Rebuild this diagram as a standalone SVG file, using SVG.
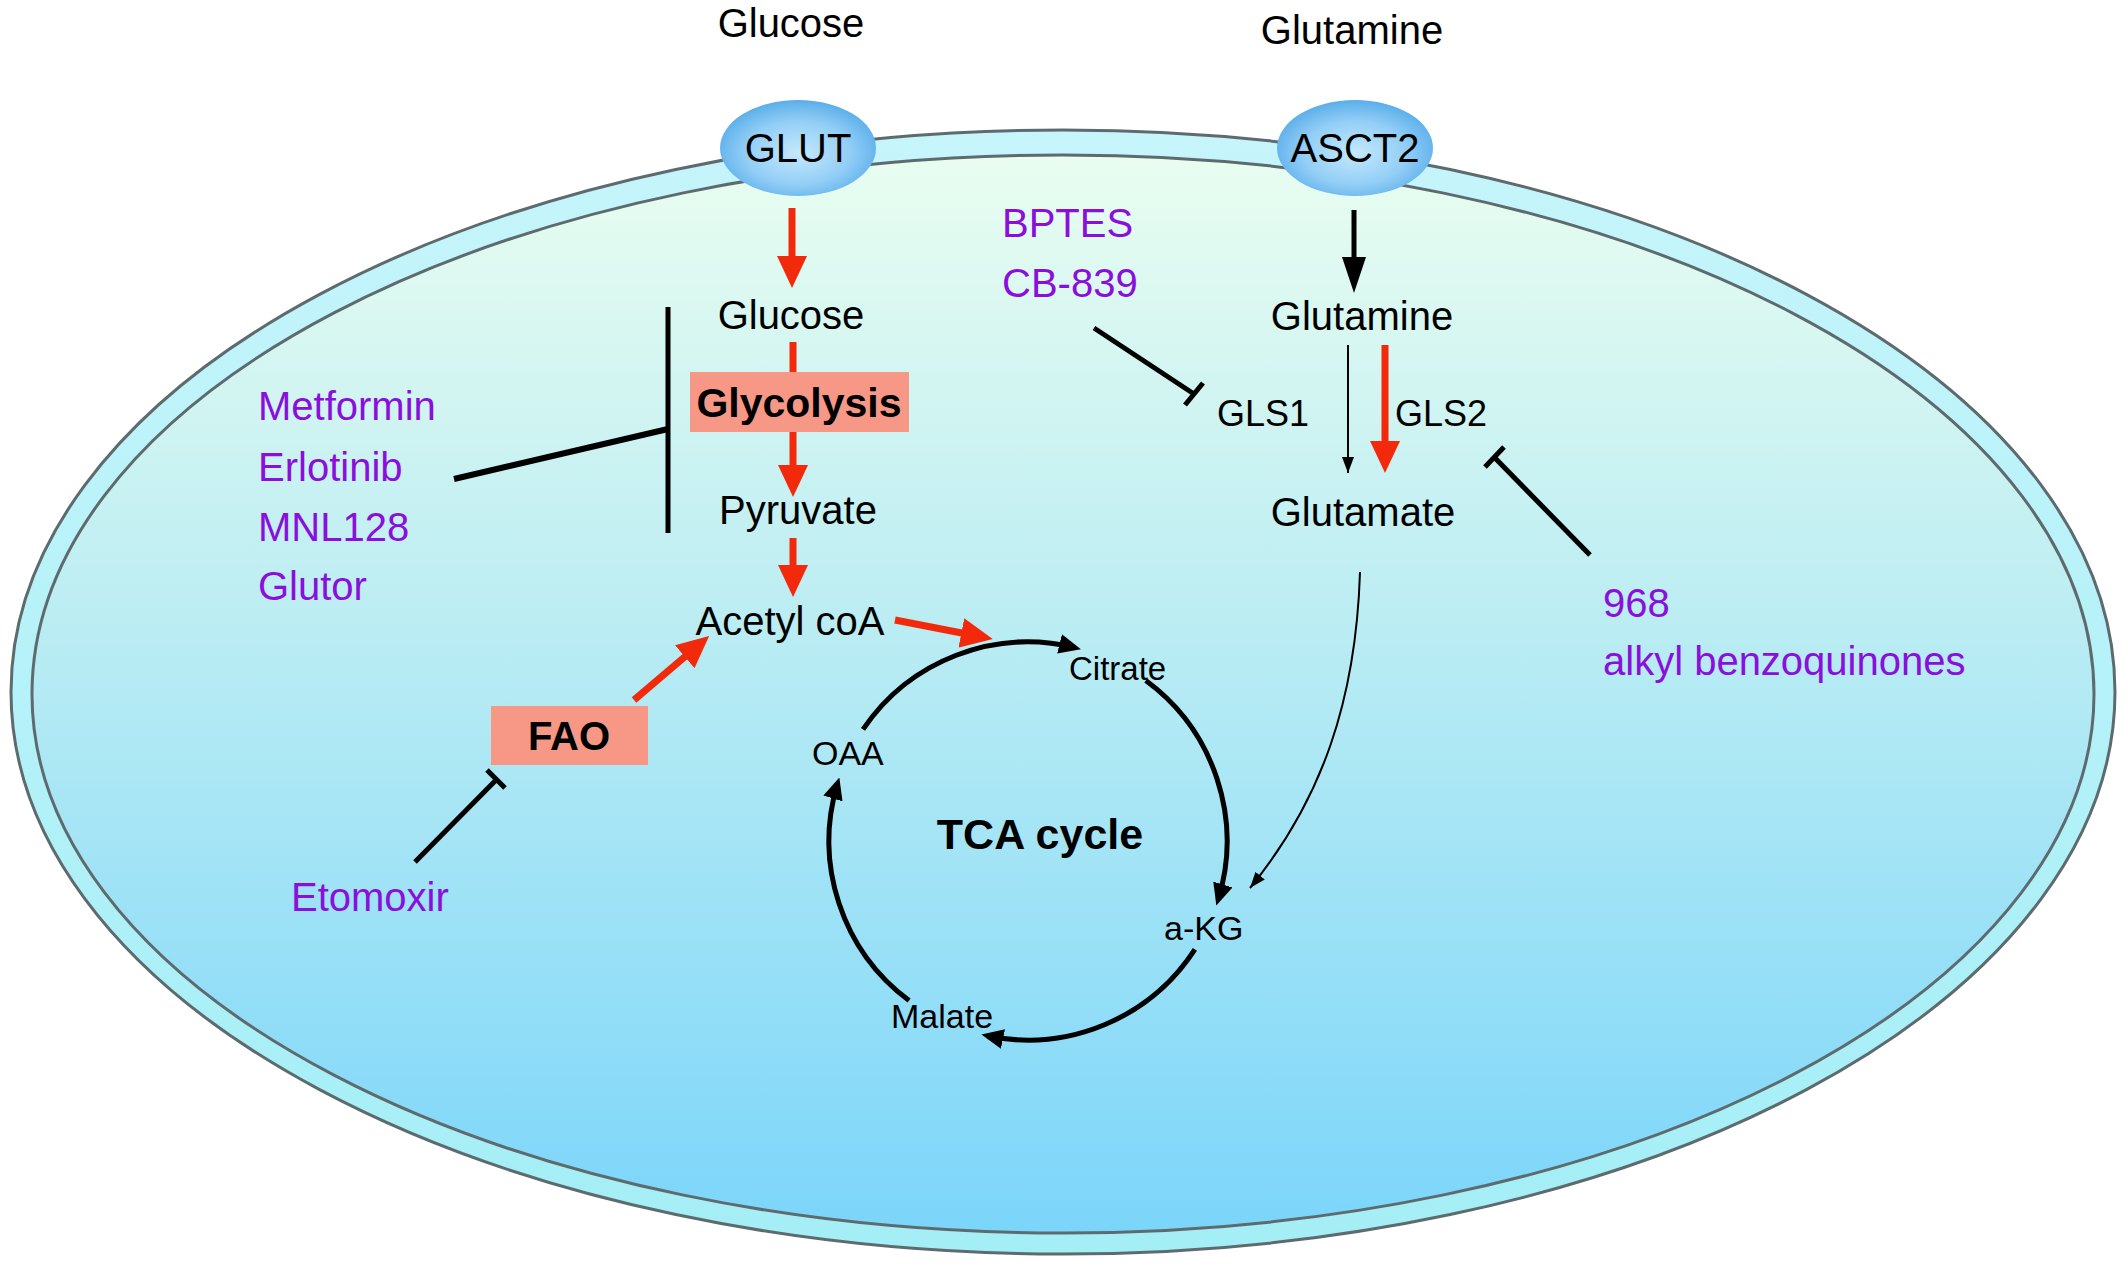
<svg xmlns="http://www.w3.org/2000/svg" width="2126" height="1266" viewBox="0 0 2126 1266">
<defs>
<linearGradient id="memG" x1="0" y1="0" x2="0" y2="1">
<stop offset="0" stop-color="#c6f5fb"/><stop offset="1" stop-color="#a4eef6"/>
</linearGradient>
<linearGradient id="cytG" x1="0" y1="0" x2="0" y2="1">
<stop offset="0" stop-color="#e9fdf0"/><stop offset="0.45" stop-color="#b9ecf3"/><stop offset="1" stop-color="#7bd5fa"/>
</linearGradient>
<radialGradient id="tpG" cx="50%" cy="55%" r="55%">
<stop offset="0" stop-color="#c4e9fc"/><stop offset="0.6" stop-color="#93cef6"/><stop offset="1" stop-color="#5aaeea"/>
</radialGradient>
<marker id="redHead" viewBox="0 0 32 30" refX="20" refY="15" markerWidth="32" markerHeight="30" markerUnits="userSpaceOnUse" orient="auto">
<path d="M0,0 L32,15 L0,30 z" fill="#f3290b"/>
</marker>
<marker id="blkHead" viewBox="0 0 36 24" refX="26" refY="12" markerWidth="36" markerHeight="24" markerUnits="userSpaceOnUse" orient="auto">
<path d="M0,0 L36,12 L0,24 z" fill="#000"/>
</marker>
<marker id="cycHead" viewBox="0 0 22 20" refX="16" refY="10" markerWidth="22" markerHeight="20" markerUnits="userSpaceOnUse" orient="auto">
<path d="M0,0 L22,10 L0,20 z" fill="#000"/>
</marker>
<marker id="thinHead" viewBox="0 0 16 12" refX="16" refY="6" markerWidth="16" markerHeight="12" markerUnits="userSpaceOnUse" orient="auto">
<path d="M0,0 L16,6 L0,12 z" fill="#000"/>
</marker>
</defs>
<style>
text{font-family:"Liberation Sans",Arial,sans-serif;fill:#000}
.lbl{font-size:40px}
.sm{font-size:34px}
.drug{font-size:40px;fill:#8a0fdc}
.bold{font-weight:bold}
.mid{text-anchor:middle}
.red{stroke:#f3290b;stroke-width:7;fill:none}
.inh{stroke:#000;stroke-width:5;fill:none}
.cyc{stroke:#000;stroke-width:5;fill:none;marker-end:url(#cycHead)}
.thin{stroke:#000;stroke-width:2;fill:none;marker-end:url(#thinHead)}
.box{fill:#f79886}
.tp{fill:url(#tpG)}
</style>
<rect width="2126" height="1266" fill="#fff"/>
<g id="cell">
<ellipse cx="1063" cy="692" rx="1052" ry="562" fill="url(#memG)" stroke="#5e6b6e" stroke-width="3"/>
<ellipse cx="1063" cy="694" rx="1031" ry="539" fill="url(#cytG)" stroke="#5e6b6e" stroke-width="3"/>
</g>
<g id="connectors">
<line class="red" x1="792" y1="208" x2="792" y2="276" marker-end="url(#redHead)"/>
<line class="red" x1="793" y1="342" x2="793" y2="376"/>
<line class="red" x1="793" y1="430" x2="793" y2="485" marker-end="url(#redHead)"/>
<line class="red" x1="793" y1="538" x2="793" y2="585" marker-end="url(#redHead)"/>
<line class="red" x1="895" y1="620" x2="981" y2="636.7" marker-end="url(#redHead)"/>
<line class="red" x1="634" y1="700" x2="700" y2="643.8" marker-end="url(#redHead)"/>
<line class="red" x1="1385" y1="345" x2="1385" y2="461" marker-end="url(#redHead)"/>
<line x1="1354" y1="210" x2="1354" y2="283" stroke="#000" stroke-width="5" marker-end="url(#blkHead)"/>
<line class="thin" x1="1348" y1="345" x2="1348" y2="473"/>
<path class="thin" d="M1360,572 C1356,700 1322,800 1250,888"/>
<path class="cyc" d="M863,729.4 A199,199 0 0,1 1075.1,647.7"/>
<path class="cyc" d="M1145.8,680.6 A199,199 0 0,1 1218.1,899.8"/>
<path class="cyc" d="M1194.9,949.4 A199,199 0 0,1 987.3,1035.8"/>
<path class="cyc" d="M909.1,1000.6 A199,199 0 0,1 837.6,783.2"/>
<line class="inh" x1="668" y1="307" x2="668" y2="533"/>
<line x1="454" y1="479" x2="668" y2="429" stroke="#000" stroke-width="6"/>
<line class="inh" x1="1094" y1="328" x2="1194" y2="394"/>
<line class="inh" x1="1185" y1="405" x2="1203" y2="383"/>
<line class="inh" x1="1590" y1="555" x2="1495" y2="458"/>
<line class="inh" x1="1485" y1="467" x2="1504" y2="447"/>
<line class="inh" x1="415" y1="862" x2="496" y2="780"/>
<line class="inh" x1="487" y1="770" x2="505" y2="788"/>
</g>
<g id="glucose-ext"><text class="lbl mid" x="791" y="37">Glucose</text></g>
<g id="glutamine-ext"><text class="lbl mid" x="1352" y="44">Glutamine</text></g>
<g id="glut"><ellipse class="tp" cx="798" cy="148" rx="78" ry="48"/><text class="lbl mid" x="798" y="162">GLUT</text></g>
<g id="asct2"><ellipse class="tp" cx="1355" cy="148" rx="78" ry="48"/><text class="lbl mid" x="1355" y="162">ASCT2</text></g>
<g id="glucose"><text class="lbl mid" x="791" y="329">Glucose</text></g>
<g id="glycolysis"><rect class="box" x="690" y="372" width="219" height="60"/><text class="lbl bold mid" x="799" y="417" style="font-size:41px">Glycolysis</text></g>
<g id="pyruvate"><text class="lbl mid" x="798" y="524">Pyruvate</text></g>
<g id="acetylcoa"><text class="lbl mid" x="790" y="635">Acetyl coA</text></g>
<g id="fao"><rect class="box" x="491" y="706" width="157" height="59"/><text class="lbl bold mid" x="569" y="750" style="font-size:40px">FAO</text></g>
<g id="glutamine"><text class="lbl mid" x="1362" y="330">Glutamine</text></g>
<g id="gls1"><text x="1217" y="426" style="font-size:36px">GLS1</text></g>
<g id="gls2"><text x="1395" y="426" style="font-size:36px">GLS2</text></g>
<g id="glutamate"><text class="lbl mid" x="1363" y="526">Glutamate</text></g>
<g id="tca"><text class="bold mid" x="1040" y="849" style="font-size:43px">TCA cycle</text></g>
<g id="citrate"><text class="sm" x="1069" y="680" style="font-size:33px">Citrate</text></g>
<g id="akg"><text class="sm" x="1164" y="940">a-KG</text></g>
<g id="malate"><text class="sm" x="891" y="1028">Malate</text></g>
<g id="oaa"><text class="sm" x="812" y="765">OAA</text></g>
<g id="drugs-glycolysis">
<text class="drug" x="258" y="420">Metformin</text>
<text class="drug" x="258" y="481">Erlotinib</text>
<text class="drug" x="258" y="541">MNL128</text>
<text class="drug" x="258" y="600">Glutor</text>
</g>
<g id="drugs-gls1">
<text class="drug" x="1002" y="237">BPTES</text>
<text class="drug" x="1002" y="297">CB-839</text>
</g>
<g id="drugs-gls2">
<text class="drug" x="1603" y="617">968</text>
<text class="drug" x="1603" y="675">alkyl benzoquinones</text>
</g>
<g id="drug-fao"><text class="drug" x="291" y="911">Etomoxir</text></g>
</svg>
